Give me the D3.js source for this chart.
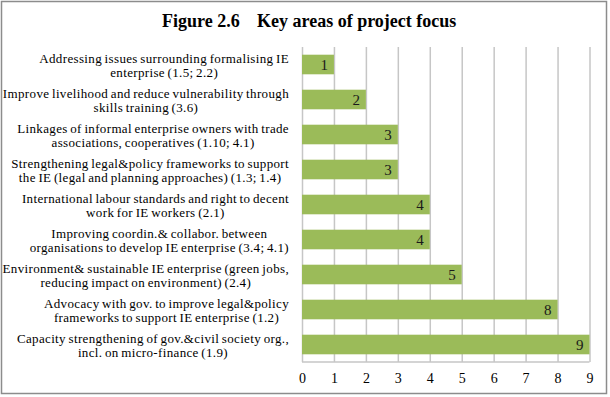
<!DOCTYPE html>
<html>
<head>
<meta charset="utf-8">
<script src="https://cdn.jsdelivr.net/npm/d3@7"></script>
<style>
  body { margin: 0; background: #fff; }
  svg text { font-family: "Liberation Serif", "DejaVu Serif", serif; }
</style>
</head>
<body>
<svg id="chart" width="610" height="397"></svg>
<script>
// chart data, top bar first
const categories = [
  "Addressing issues surrounding formalising IE|enterprise (1.5; 2.2)",
  "Improve livelihood and reduce vulnerability through|skills training (3.6)",
  "Linkages of informal enterprise owners with trade|associations, cooperatives (1.10; 4.1)",
  "Strengthening legal&policy frameworks to support|the IE (legal and planning approaches) (1.3; 1.4)",
  "International labour standards and right to decent|work for IE workers (2.1)",
  "Improving coordin.& collabor. between|organisations to develop IE enterprise (3.4; 4.1)",
  "Environment& sustainable IE enterprise (green jobs,|reducing impact on environment) (2.4)",
  "Advocacy with gov. to improve legal&policy|frameworks to support IE enterprise (1.2)",
  "Capacity strengthening of gov.&civil society org.,|incl. on micro-finance (1.9)"
];
const values = [1, 2, 3, 3, 4, 4, 5, 8, 9];
const xTicks = [0, 1, 2, 3, 4, 5, 6, 7, 8, 9];
const titleParts = ["Figure 2.6", "Key areas of project focus"];

const svg = d3.select("#chart");
const plot = { left: 302, right: 589.5, top: 47, bottom: 362 };

svg.append("rect")
  .attr("x", 1.5).attr("y", 1.5)
  .attr("width", 605).attr("height", 392)
  .attr("fill", "#fff")
  .attr("stroke", "#8c8c8c")
  .attr("stroke-width", 1.5);

// title
const title = svg.append("text")
  .attr("y", 27)
  .style("font-size", "18px")
  .style("font-weight", "bold")
  .attr("fill", "#000");
title.append("tspan").attr("x", 162).text(titleParts[0]);
title.append("tspan").attr("x", 257).text(titleParts[1]);

const x = d3.scaleLinear().domain([0, 9]).range([plot.left, plot.right]);
const y = d3.scaleBand()
  .domain(categories)
  .range([plot.top, plot.bottom])
  .paddingInner(0.44)
  .paddingOuter(0.22);

// gridlines
const grid = svg.append("g")
  .attr("transform", `translate(0,${plot.bottom})`)
  .call(d3.axisBottom(x).tickValues(xTicks).tickSize(-(plot.bottom - plot.top)).tickFormat(""));
grid.select(".domain").remove();
grid.selectAll("line").attr("stroke", "#c6c6c6").attr("stroke-width", 1.5);

svg.append("line")
  .attr("x1", plot.left).attr("x2", plot.right)
  .attr("y1", plot.bottom).attr("y2", plot.bottom)
  .attr("stroke", "#c6c6c6").attr("stroke-width", 1.5);

// tick labels
const xAxis = svg.append("g")
  .attr("transform", `translate(0,${plot.bottom})`)
  .call(d3.axisBottom(x).tickValues(xTicks).tickSize(0).tickPadding(11).tickFormat(d3.format("d")));
xAxis.select(".domain").remove();
xAxis.selectAll("text")
  .attr("font-family", null)
  .style("font-size", "14px")
  .attr("fill", "#000");

// bars
svg.append("g")
  .selectAll("rect")
  .data(values)
  .join("rect")
  .attr("x", x(0))
  .attr("y", (d, i) => y(categories[i]))
  .attr("width", d => x(d) - x(0))
  .attr("height", y.bandwidth())
  .attr("fill", "#9bbb59");

// value labels
svg.append("g")
  .selectAll("text")
  .data(values)
  .join("text")
  .attr("x", d => x(d) - 6)
  .attr("y", (d, i) => y(categories[i]) + y.bandwidth() / 2 + 5.5)
  .attr("text-anchor", "end")
  .style("font-size", "15px")
  .attr("fill", "#1a1a1a")
  .text(d => d);

// category labels, two lines each, block right edge at 289
const labels = svg.append("g")
  .selectAll("text")
  .data(categories)
  .join("text")
  .attr("text-anchor", "middle")
  .style("font-size", "13px")
  .style("letter-spacing", "0.35px")
  .style("word-spacing", "-1px")
  .attr("fill", "#000");

labels.each(function(c) {
  const cy = y(c) + y.bandwidth() / 2;
  const lines = c.split("|");
  const t = d3.select(this);
  const widths = lines.map(l => {
    const s = t.append("tspan").text(l);
    const w = s.node().getComputedTextLength();
    s.remove();
    return w;
  });
  const mid = 289 - d3.max(widths) / 2;
  lines.forEach((l, i) => {
    t.append("tspan")
      .attr("x", mid)
      .attr("y", cy - 1.6 + i * 14.5)
      .text(l);
  });
});
</script>
</body>
</html>
